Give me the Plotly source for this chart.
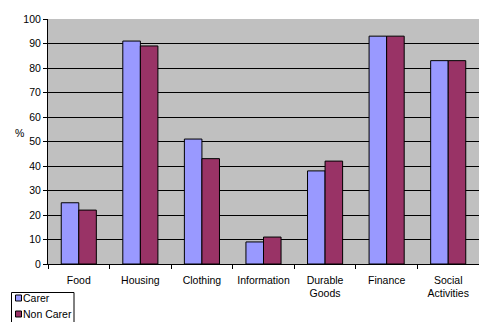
import plotly.graph_objects as go

categories = ["Food", "Housing", "Clothing", "Information", "Durable<br>Goods", "Finance", "Social<br>Activities"]
carer = [25, 91, 51, 9, 38, 93, 83]
non_carer = [22, 89, 43, 11, 42, 93, 83]
y_ticks = [0, 10, 20, 30, 40, 50, 60, 70, 80, 90, 100]
series_names = ["Carer", "Non Carer"]
series_colors = ["#9999FF", "#993366"]

W, H = 479, 322
L, R, T, B = 48, 0, 19, 58
pw, ph = W - L - R, H - T - B

def px(x):
    return (x - L) / pw

def py(y):
    return (H - B - y) / ph

fig = go.Figure()
for name, vals, col in zip(series_names, [carer, non_carer], series_colors):
    fig.add_trace(go.Bar(name=name, x=categories, y=vals,
                         marker=dict(color=col, line=dict(color="#000000", width=1))))

shapes = [dict(type="rect", xref="paper", yref="paper",
               x0=px(11.5), x1=px(74), y0=py(330), y1=py(292.5),
               line=dict(color="#000000", width=1), fillcolor="white", layer="above")]
annotations = [dict(text="%", x=px(19), y=py(133), xref="paper", yref="paper",
                    showarrow=False, font=dict(size=10.5), xanchor="center", yanchor="middle")]
for i, (name, col) in enumerate(zip(series_names, series_colors)):
    cy = 298 + 16 * i
    shapes.append(dict(type="rect", xref="paper", yref="paper",
                       x0=px(15.5), x1=px(21.5), y0=py(cy + 3), y1=py(cy - 3),
                       line=dict(color="#000000", width=1), fillcolor=col, layer="above"))
    annotations.append(dict(text=name, x=px(21.5), y=py(cy), xref="paper", yref="paper",
                            showarrow=False, xanchor="left", yanchor="middle",
                            borderpad=0, font=dict(size=10.5)))

fig.update_layout(
    width=W, height=H,
    margin=dict(l=L, r=R, t=T, b=B, autoexpand=False),
    paper_bgcolor="white",
    plot_bgcolor="#C0C0C0",
    barmode="group",
    bargap=0.43,
    bargroupgap=0,
    font=dict(family="Liberation Sans, Arial", size=10, color="#000000"),
    showlegend=False,
    shapes=shapes,
    annotations=annotations,
)
fig.update_xaxes(showline=True, linecolor="#000000", linewidth=1,
                 ticks="outside", ticklen=4, tickcolor="#000000", tickangle=0,
                 tickson="boundaries", showgrid=False, tickfont=dict(size=10.5),
                 ticklabelstandoff=6)
fig.update_yaxes(range=[0, 100], tickvals=y_ticks, showline=True, linecolor="#000000",
                 linewidth=1, ticks="outside", ticklen=4, tickcolor="#000000",
                 showgrid=True, gridcolor="#000000", gridwidth=1, zeroline=False,
                 tickfont=dict(size=10.5))

fig.write_html("out.html")
